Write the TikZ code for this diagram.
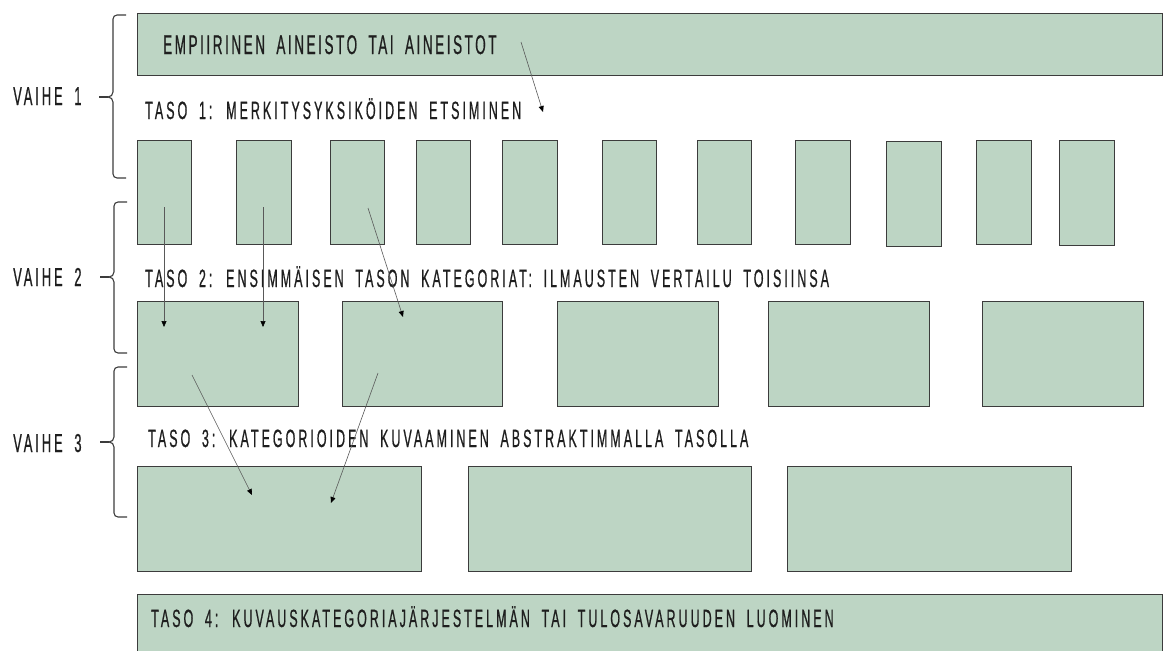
\documentclass[tikz,border=0pt]{standalone}
\usepackage{fontspec}
\setmainfont{Liberation Sans}
\newfontfamily\tasofont[FakeStretch=0.5,FakeBold=0.6,LetterSpace=12,WordSpace=1.8]{Liberation Sans}
\newfontfamily\aineistofont[FakeStretch=0.5,FakeBold=0.6,LetterSpace=9.5,WordSpace=1.8]{Liberation Sans}
\newfontfamily\vaihefont[FakeStretch=0.5,FakeBold=0.6,LetterSpace=11,WordSpace=1.8]{Liberation Sans}
\usetikzlibrary{arrows.meta}
\definecolor{laatikko}{HTML}{BDD5C4}
\definecolor{reuna}{HTML}{3C3C3C}
\definecolor{teksti}{HTML}{1E1E1E}

\begin{document}
\begin{tikzpicture}[x=1pt,y=-1pt,
  box/.style={draw=reuna,fill=laatikko,line width=1.3pt,inner sep=0pt,anchor=north west},
  taso/.style={anchor=base west,inner sep=0pt,text=teksti,font=\tasofont\fontsize{25}{25}\selectfont},
  vaihe/.style={anchor=base west,inner sep=0pt,text=teksti,font=\vaihefont\fontsize{26}{26}\selectfont},
  nuoli/.style={draw=black!65,line width=0.6pt,-{Triangle[length=6pt,width=5pt,color=black]}},
  sulku/.style={draw=reuna,line width=1.1pt}]
\clip (0,0) rectangle (1163,651);
\node[box,minimum width=1025pt,minimum height=62pt] (aineisto) at (137,13) {};
\node[anchor=base west,inner sep=0pt,text=teksti,font=\aineistofont\fontsize{27}{27}\selectfont] (ta) at (163,54) {EMPIIRINEN AINEISTO TAI AINEISTOT};
\node[taso] (t1) at (145,119) {TASO 1: MERKITYSYKSIKÖIDEN ETSIMINEN};
\node[box,minimum width=54pt,minimum height=104pt] (u1) at (137,140) {};
\node[box,minimum width=55pt,minimum height=104pt] (u2) at (236,140) {};
\node[box,minimum width=54pt,minimum height=104pt] (u3) at (330,140) {};
\node[box,minimum width=54pt,minimum height=104pt] (u4) at (416,140) {};
\node[box,minimum width=55pt,minimum height=104pt] (u5) at (502,140) {};
\node[box,minimum width=54pt,minimum height=104pt] (u6) at (602,140) {};
\node[box,minimum width=54pt,minimum height=104pt] (u7) at (697,140) {};
\node[box,minimum width=55pt,minimum height=104pt] (u8) at (795,140) {};
\node[box,minimum width=55pt,minimum height=105pt] (u9) at (886,141) {};
\node[box,minimum width=55pt,minimum height=104pt] (u10) at (976,140) {};
\node[box,minimum width=55pt,minimum height=105pt] (u11) at (1059,140) {};
\node[taso] (t2) at (145,287) {TASO 2: ENSIMMÄISEN TASON KATEGORIAT: ILMAUSTEN VERTAILU TOISIINSA};
\node[box,minimum width=161pt,minimum height=105pt] (k1) at (137,301) {};
\node[box,minimum width=160pt,minimum height=105pt] (k2) at (342,301) {};
\node[box,minimum width=161pt,minimum height=105pt] (k3) at (557,301) {};
\node[box,minimum width=161pt,minimum height=105pt] (k4) at (768,301) {};
\node[box,minimum width=161pt,minimum height=105pt] (k5) at (982,301) {};
\node[taso] (t3) at (148,447) {TASO 3: KATEGORIOIDEN KUVAAMINEN ABSTRAKTIMMALLA TASOLLA};
\node[box,minimum width=284pt,minimum height=105pt] (a1) at (137,466) {};
\node[box,minimum width=283pt,minimum height=105pt] (a2) at (468,466) {};
\node[box,minimum width=284pt,minimum height=105pt] (a3) at (787,466) {};
\node[box,minimum width=1025pt,minimum height=80pt] (tulos) at (137,594) {};
\node[taso] (t4) at (151,627) {TASO 4: KUVAUSKATEGORIAJÄRJESTELMÄN TAI TULOSAVARUUDEN LUOMINEN};
\node[vaihe] (v1) at (13,105) {VAIHE 1};
\node[vaihe] (v2) at (13,286) {VAIHE 2};
\node[vaihe] (v3) at (13,452) {VAIHE 3};
\draw[sulku] (126,15) -- (117,15) to[out=180,in=90] (113,19) -- (113,92) to[out=-90,in=0] (108,97) to[out=0,in=90] (113,102) -- (113,174) to[out=-90,in=180] (117,178) -- (126,178);
\draw[sulku] (108,97) -- (99,97);
\draw[sulku] (127,202) -- (118,202) to[out=180,in=90] (114,206) -- (114,272) to[out=-90,in=0] (109,277) to[out=0,in=90] (114,282) -- (114,349) to[out=-90,in=180] (118,353) -- (127,353);
\draw[sulku] (109,277) -- (100,277);
\draw[sulku] (127,367) -- (118,367) to[out=180,in=90] (114,371) -- (114,437) to[out=-90,in=0] (109,442) to[out=0,in=90] (114,447) -- (114,513) to[out=-90,in=180] (118,517) -- (127,517);
\draw[sulku] (109,442) -- (100,442);
\coordinate (n0) at (521,42);
\coordinate (m0) at (543,112);
\coordinate (n1) at (164,207);
\coordinate (m1) at (164,327);
\coordinate (n2) at (263,207);
\coordinate (m2) at (263,327);
\coordinate (n3) at (368,208);
\coordinate (m3) at (403,317);
\coordinate (n4) at (192,375);
\coordinate (m4) at (252,495);
\coordinate (n5) at (378,373);
\coordinate (m5) at (331,503);
\draw[nuoli] (n0) -- (m0);
\draw[nuoli] (n1) -- (m1);
\draw[nuoli] (n2) -- (m2);
\draw[nuoli] (n3) -- (m3);
\draw[nuoli] (n4) -- (m4);
\draw[nuoli] (n5) -- (m5);
\end{tikzpicture}
\end{document}
